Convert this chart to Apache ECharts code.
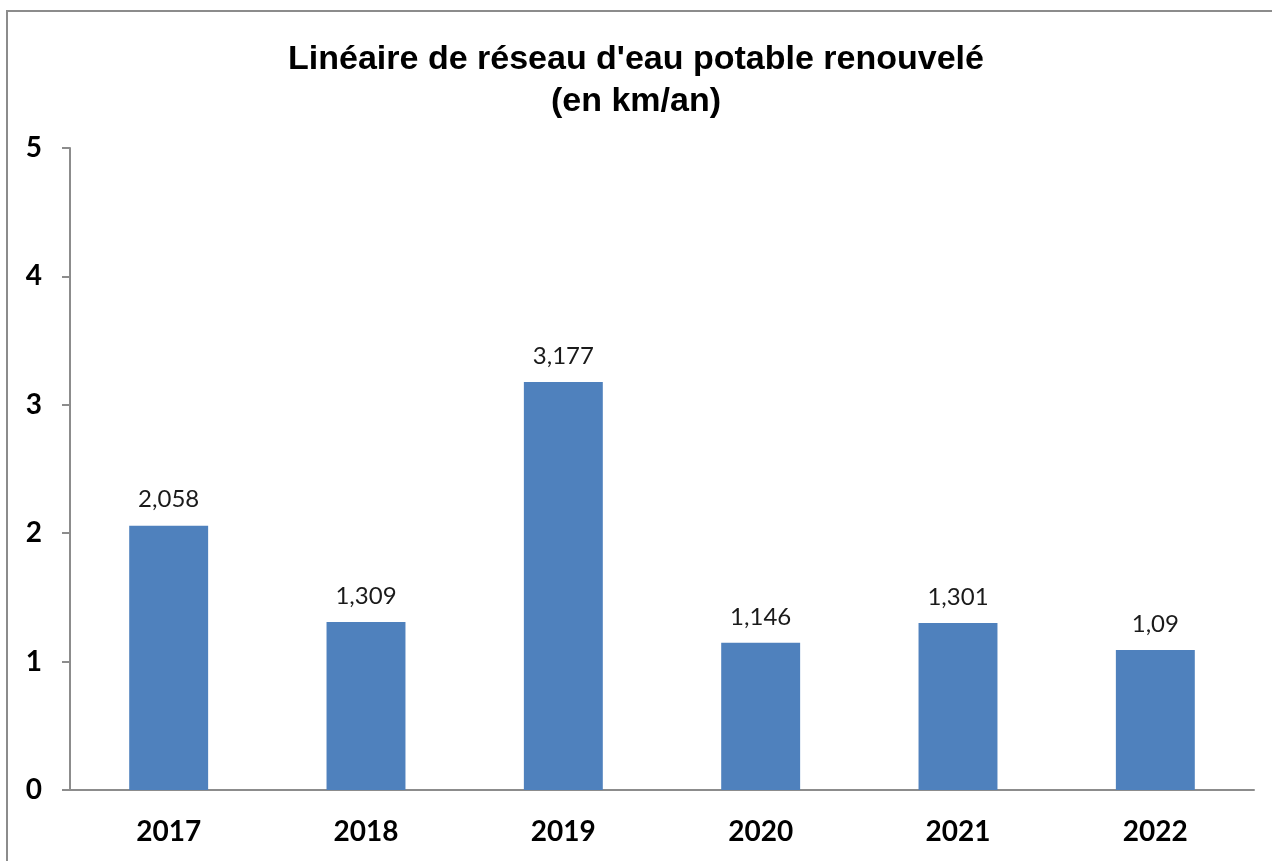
<!DOCTYPE html>
<html lang="fr">
<head>
  <meta charset="UTF-8">
  <title>Linéaire de réseau d'eau potable renouvelé</title>
  <script src="https://cdn.jsdelivr.net/npm/echarts@6/dist/echarts.min.js"></script>
  <style>
    html, body {
      margin: 0;
      padding: 0;
      background: #ffffff;
      overflow: hidden;
    }
    .frame {
      position: absolute;
      left: 6px;
      top: 10px;
      width: 1300px;
      height: 900px;
      border: 2px solid #8c8c8c;
      box-sizing: border-box;
    }
    #chart {
      position: absolute;
      left: 0;
      top: 0;
      width: 1272px;
      height: 861px;
    }
  </style>
</head>
<body>
  <div class="frame"></div>
  <div id="chart"></div>

  <script>
    // data
    var years = ['2017', '2018', '2019', '2020', '2021', '2022'];
    var kmRenewed = [2.058, 1.309, 3.177, 1.146, 1.301, 1.09];

    var chart = echarts.init(document.getElementById('chart'));

    var options = {
      animation: false,
      title: {
        text: "Linéaire de réseau d'eau potable renouvelé\n(en km/an)",
        left: 'center',
        top: 34,
        textStyle: {
          fontFamily: 'Liberation Sans, Arial, sans-serif',
          fontWeight: 'bold',
          fontSize: 34,
          lineHeight: 42,
          color: '#000000'
        }
      },
      grid: {
        left: 70,
        right: 18,
        top: 148,
        bottom: 71
      },
      xAxis: {
        type: 'category',
        data: years,
        axisLine: { lineStyle: { color: '#8c8c8c', width: 2 } },
        axisTick: { show: false },
        axisLabel: {
          margin: 28,
          fontFamily: 'Lato, sans-serif',
          fontWeight: 'bold',
          fontSize: 28,
          color: '#000000'
        }
      },
      yAxis: {
        type: 'value',
        min: 0,
        max: 5,
        interval: 1,
        splitLine: { show: false },
        axisLine: { show: true, lineStyle: { color: '#8c8c8c', width: 2 } },
        axisTick: { show: true, length: 8, lineStyle: { color: '#8c8c8c', width: 2 } },
        axisLabel: {
          margin: 28,
          fontFamily: 'Lato, sans-serif',
          fontWeight: 'bold',
          fontSize: 28,
          color: '#000000'
        }
      },
      series: [
        {
          type: 'bar',
          data: kmRenewed,
          barCategoryGap: '60%',
          itemStyle: { color: '#4f81bd' },
          label: {
            show: true,
            position: 'top',
            distance: 14,
            fontFamily: 'Lato, sans-serif',
            fontSize: 24,
            color: '#1a1a1a',
            formatter: function (p) {
              return String(p.value).replace('.', ',');
            }
          }
        }
      ]
    };

    chart.setOption(options);

    window.addEventListener('resize', function () {
      chart.resize();
    });
  </script>
</body>
</html>
